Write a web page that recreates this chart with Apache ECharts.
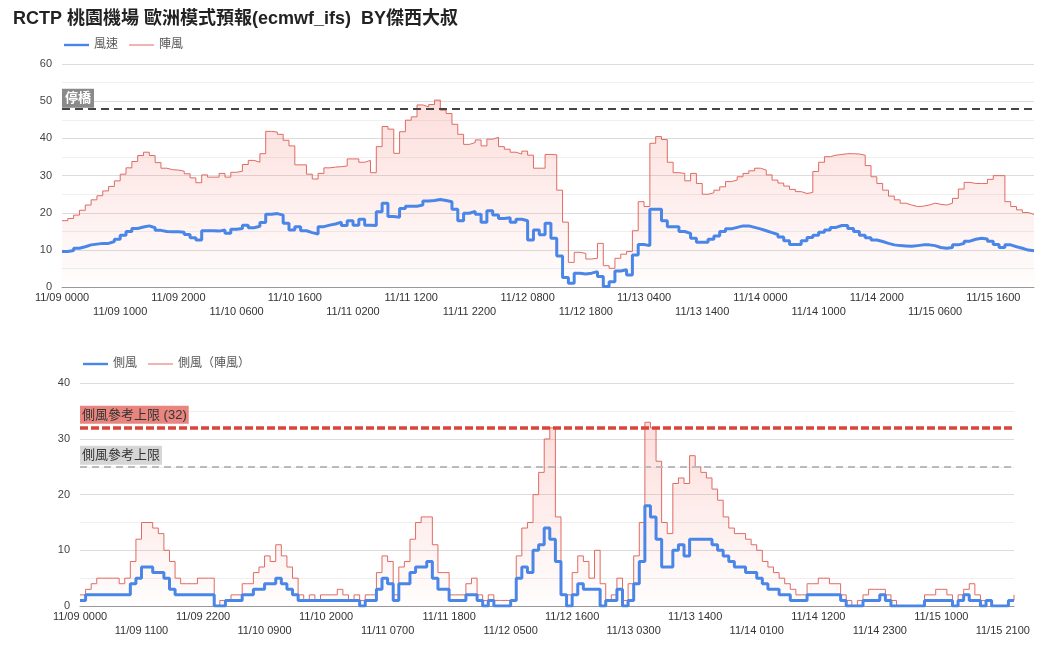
<!DOCTYPE html>
<html><head><meta charset="utf-8">
<script src="https://cdn.jsdelivr.net/npm/echarts@6/dist/echarts.min.js"></script>
<style>html,body{margin:0;padding:0;background:#fff}#c{width:1056px;height:647px}</style>
</head><body><div id="c"></div>
<script>
// ---- data ----
const days = ['11/09','11/10','11/11','11/12','11/13','11/14','11/15'];
const hours = ['0000','0100','0200','0300','0400','0500','0600','0700','0800','0900','1000','1100',
               '1200','1300','1400','1500','1600','1700','1800','1900','2000','2100','2200','2300'];
const categories = [];
days.forEach(d => hours.forEach(h => categories.push(d + ' ' + h)));

const windSpeed = [
 9.6,9.9,10.5,10.9,11.4,11.6,11.8,11.8,12.3,12.9,14,15,15.8,16.2,16.5,16,15.3,15,14.9,14.9,
 14.8,14.2,13.3,12.7,15.2,15.2,15.1,15.4,14.5,15.6,15.8,16.7,16,16.4,17.4,19.6,19.8,19.4,17.2,15.4,
 16.3,15.2,14.7,14.3,16.3,16.7,17,17.5,16.6,17.9,16.7,18.3,16.7,16.6,20.3,22.6,19,18.8,21.2,21.8,
 21.8,22.1,23.2,23.3,23.6,23.3,23,21,17.9,19.9,20.4,19.6,17.5,20.6,19.4,18.5,18.7,17.5,18.3,17.9,
 12.7,15.4,14.1,17.2,13.2,8.4,2.6,1.1,3.8,3.6,3.8,4.2,2.9,0.2,1.5,4.4,4.7,3.3,8.7,11.5,
 11.2,21,21,17.9,16.3,16.3,15,14.5,13.2,12.1,12.1,12.9,13.8,15,15.7,16.1,16.5,16.5,16.1,15.7,
 15.2,14.7,14.2,13.5,12.5,11.5,11.5,12.5,13.4,14,14.8,15.4,16.1,16.6,16.6,15.8,15,14,13.3,12.7,
 12.3,11.8,11.4,11.2,11.1,11,11.2,11.4,11.4,11.2,10.7,10.5,10.7,11.4,11.8,12.4,12.9,13.2,13,12.4,
 11.5,10.7,11.4,10.9,10.5,10,9.8,9.8
];
const windGust = [
 17.9,18.5,19.4,20.7,22.1,23.5,24.6,25.9,27.1,28.6,30.4,32.1,33.8,35.4,36.3,35.4,33.5,32,31.6,31.5,
 31.2,30.5,29.4,28.1,30.2,29.6,29.6,30.6,29.6,30.9,31.2,33,34.1,33.6,35.9,41.9,41.7,41.1,39.5,38,
 32.9,32.9,30.4,29.1,30.6,32.1,32.3,32.4,32.6,34.5,34.5,33.6,34.1,30.8,37.8,43.2,42.5,36,41.8,44.9,
 45.8,49,48.5,49.1,50.3,47.6,46.7,43.8,41.1,38.4,38.9,39.6,38,39.8,40.3,37.8,37.1,36.3,35.8,36.6,
 35.5,32,32,35.7,35.6,26.1,17.5,6.7,9.4,9.1,7.6,7.8,11.8,5.8,5.1,7.8,8.9,9.6,15.2,23,
 21.7,38.7,40.5,39.7,33.6,30.8,30.6,28.6,30.6,27.9,25,25.4,26.1,27,28.4,28.8,29.7,30.6,31.3,32,
 31.5,30.2,28.8,28,27.2,26.3,25.7,25.2,25.5,31.1,33.6,35.1,35.5,35.7,35.9,35.9,35.8,35.5,32.7,29.7,
 27.9,26.1,24.5,23.5,22.6,22.1,21.7,21.8,22.1,22.6,22.3,22.1,22.6,23.9,26.4,28.2,27.9,27.9,27.9,29,
 30,30,23,21.7,20.8,20.1,19.6,19.6
];
const crossWind = [
 1,2,2,2,2,2,2,2,2,4,5,7,7,6,6,5,3,2,2,2,2,2,2,2,0,0,1,1,1,2,2,3,3,4,4,5,4,3,2,
 1,1,1,1,1,1,1,1,1,1,1,0,1,1,3,5,4,1,4,4,6,7,7,8,5,3,3,1,1,1,2,2,1,0,1,0,0,0,1,5,7,6,10,11,
 14,12,8,2,0,2,4,3,3,3,0,1,1,3,0,1,4,8,18,16,12,7,7,10,11,9,12,12,12,12,11,10,9,8,7,7,6,6,5,4,3,3,2,
 2,1,1,1,2,2,2,2,2,2,1,0,0,0,1,1,1,2,1,0,0,0,0,0,0,1,1,1,1,1,0,1,2,1,1,0,1,0,0,0,1,1
];
const crossGust = [
 2,3,4,5,5,5,5,4,5,8,12,15,15,14,13,10,8,5,4,4,4,5,5,5,0,1,1,2,2,4,4,6,7,9,8,11,9,7,5,
 2,1,2,1,2,2,2,3,2,1,2,1,2,2,6,9,8,2,7,8,12,15,16,16,11,6,6,2,2,2,4,5,2,1,2,1,1,1,1,9,14,15,20,24,
 30,32,16,2,2,6,9,8,5,10,4,1,2,5,1,4,9,15,33,32,26,15,13,22,23,22,27,25,24,23,21,19,16,14,13,13,12,11,10,8,7,6,5,
 4,3,2,2,4,4,5,5,4,4,2,1,0,1,2,3,3,3,2,1,0,0,0,0,0,2,2,3,3,2,0,2,3,4,2,1,1,0,0,0,1,2
];
const stopLimit = 48;
const crossLimitMax = 32;
const crossLimitRef = 25;

// ---- chart ----
const FONT = 'Arial, "Liberation Sans", "Noto Sans CJK TC", sans-serif';
const BLUE = '#4a86e8', RED = '#e06b63';
const ICON_THICK = 'path://M0,0L25,0L25,2.4L0,2.4Z';
const ICON_THIN = 'path://M0,0L25,0L25,1L0,1Z';
const chart = echarts.init(document.getElementById('c'), null, {renderer: 'canvas'});

function areaGrad() {
  return new echarts.graphic.LinearGradient(0, 0, 0, 1, [
    {offset: 0, color: 'rgba(243,125,115,0.36)'},
    {offset: 1, color: 'rgba(243,125,115,0.02)'}
  ]);
}
function xLabel(step) {
  return (v, i) => (Math.round(i / step) % 2 === 1 ? '\n' : '') + v;
}
function xAxis(grid, step) {
  return {
    type: 'category', gridIndex: grid, data: categories, boundaryGap: false,
    axisLine: {lineStyle: {color: '#999'}}, axisTick: {show: false},
    axisLabel: {interval: step - 1, formatter: xLabel(step), color: '#333', fontSize: 11,
      lineHeight: 14, margin: 4, fontFamily: FONT},
    splitLine: {show: false}
  };
}
function yAxis(grid, max) {
  return {
    type: 'value', gridIndex: grid, min: 0, max: max, interval: 10,
    axisLine: {show: false}, axisTick: {show: false},
    axisLabel: {color: '#444', fontSize: 11, margin: 10, fontFamily: FONT},
    splitLine: {lineStyle: {color: '#dcdcdc'}},
    minorTick: {show: false, splitNumber: 2},
    minorSplitLine: {show: true, lineStyle: {color: '#efefef'}}
  };
}
function legend(names, left, top) {
  return {
    data: [{name: names[0], icon: ICON_THICK}, {name: names[1], icon: ICON_THIN}],
    left: left, top: top, itemWidth: 25, itemHeight: 10, itemGap: 11, symbolKeepAspect: true,
    textStyle: {color: '#555', fontSize: 12, fontFamily: FONT}
  };
}

const option = {
  animation: false,
  backgroundColor: '#fff',
  textStyle: {fontFamily: FONT},
  title: {
    text: 'RCTP 桃園機場 歐洲模式預報(ecmwf_ifs)  BY傑西大叔',
    left: 8, top: 5,
    textStyle: {fontSize: 18, fontWeight: 'bold', color: '#222', fontFamily: FONT}
  },
  legend: [legend(['風速', '陣風'], 59, 34), legend(['側風', '側風（陣風）'], 78, 353)],
  grid: [
    {left: 62, right: 22, top: 64, height: 223.3},
    {left: 80, right: 42, top: 383.3, height: 222.7}
  ],
  xAxis: [xAxis(0, 10), xAxis(1, 11)],
  yAxis: [yAxis(0, 60), yAxis(1, 40)],
  series: [
    {name: '陣風', type: 'line', xAxisIndex: 0, yAxisIndex: 0, data: windGust, step: 'end',
     symbol: 'none', lineStyle: {color: RED, width: 1}, itemStyle: {color: RED},
     areaStyle: {color: areaGrad()}},
    {name: '風速', type: 'line', xAxisIndex: 0, yAxisIndex: 0, data: windSpeed, step: 'end',
     symbol: 'none', lineStyle: {color: BLUE, width: 3}, itemStyle: {color: BLUE},
     markLine: {silent: true, symbol: 'none', animation: false,
       lineStyle: {color: '#444', type: [8, 5], width: 2},
       data: [{yAxis: stopLimit, label: {show: true, formatter: '停橋', position: 'insideStartTop',
         distance: [0, 1], color: '#fff', fontWeight: 'bold', fontSize: 13, backgroundColor: '#8a8a8a',
         padding: [3, 3, 3, 3], fontFamily: FONT}}]}},
    {name: '側風（陣風）', type: 'line', xAxisIndex: 1, yAxisIndex: 1, data: crossGust, step: 'end',
     symbol: 'none', lineStyle: {color: RED, width: 1}, itemStyle: {color: RED},
     areaStyle: {color: areaGrad()}},
    {name: '側風', type: 'line', xAxisIndex: 1, yAxisIndex: 1, data: crossWind, step: 'end',
     symbol: 'none', lineStyle: {color: BLUE, width: 3}, itemStyle: {color: BLUE},
     markLine: {silent: true, symbol: 'none', animation: false,
       data: [
        {yAxis: crossLimitMax, lineStyle: {color: '#d9453b', type: [8, 3], width: 3.5},
         label: {show: true, formatter: '側風參考上限 (32)', position: 'insideStartTop', distance: [0, 4],
           color: '#333', fontSize: 13, backgroundColor: '#e8857f', padding: [3, 2, 2, 2], fontFamily: FONT}},
        {yAxis: crossLimitRef, lineStyle: {color: '#bbbbbb', type: [7, 5], width: 2},
         label: {show: true, formatter: '側風參考上限', position: 'insideStartTop', distance: [0, 2],
           color: '#333', fontSize: 13, backgroundColor: '#d6d6d6', padding: [3, 2, 3, 2], fontFamily: FONT}}
       ]}}
  ]
};
chart.setOption(option);
</script></body></html>
